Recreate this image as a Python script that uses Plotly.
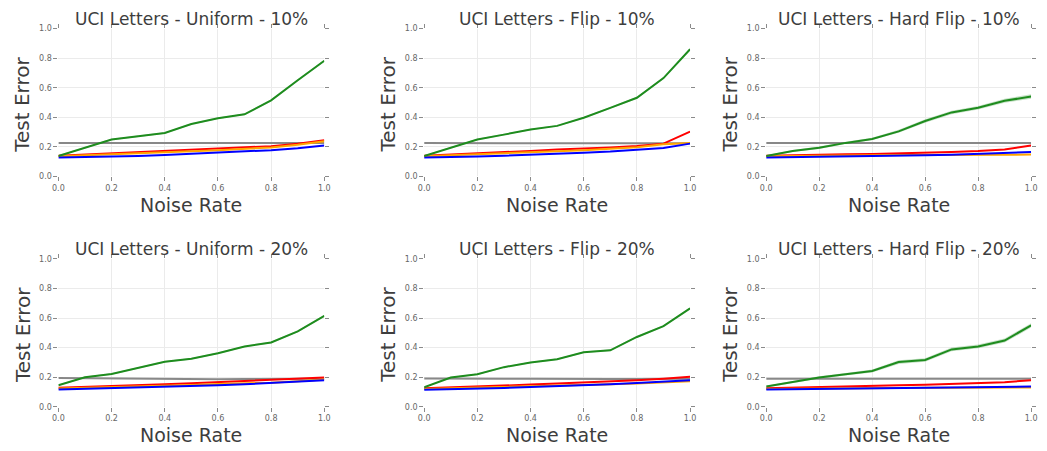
import plotly.graph_objects as go

noise_rate = [0.0, 0.1, 0.2, 0.3, 0.4, 0.5, 0.6, 0.7, 0.8, 0.9, 1.0]
titles = ["UCI Letters - Uniform - 10%", "UCI Letters - Flip - 10%", "UCI Letters - Hard Flip - 10%",
          "UCI Letters - Uniform - 20%", "UCI Letters - Flip - 20%", "UCI Letters - Hard Flip - 20%"]
tick_vals = [0.0, 0.2, 0.4, 0.6, 0.8, 1.0]
tick_text = ["0.0", "0.2", "0.4", "0.6", "0.8", "1.0"]

# Uniform 10%
u10_green = [0.139, 0.195, 0.250, 0.272, 0.294, 0.355, 0.393, 0.420, 0.514, 0.650, 0.782]
u10_green_std = [0.004, 0.004, 0.005, 0.005, 0.005, 0.005, 0.005, 0.005, 0.006, 0.006, 0.006]
u10_gray = [0.226, 0.226, 0.225, 0.225, 0.225, 0.225, 0.224, 0.224, 0.225, 0.225, 0.226]
u10_red = [0.140, 0.148, 0.157, 0.165, 0.172, 0.179, 0.186, 0.195, 0.205, 0.222, 0.245]
u10_orange = [0.136, 0.142, 0.150, 0.157, 0.164, 0.171, 0.178, 0.186, 0.196, 0.214, 0.238]
u10_blue = [0.128, 0.130, 0.134, 0.139, 0.146, 0.153, 0.160, 0.170, 0.178, 0.191, 0.210]

# Flip 10%
f10_green = [0.139, 0.196, 0.250, 0.283, 0.318, 0.342, 0.397, 0.464, 0.532, 0.665, 0.860]
f10_green_std = [0.004, 0.004, 0.005, 0.005, 0.005, 0.005, 0.005, 0.006, 0.006, 0.006, 0.006]
f10_gray = [0.226, 0.225, 0.224, 0.222, 0.224, 0.225, 0.225, 0.225, 0.225, 0.225, 0.225]
f10_red = [0.140, 0.147, 0.156, 0.165, 0.173, 0.182, 0.188, 0.196, 0.206, 0.222, 0.303]
f10_orange = [0.136, 0.142, 0.150, 0.157, 0.164, 0.171, 0.178, 0.186, 0.198, 0.218, 0.226]
f10_blue = [0.128, 0.129, 0.135, 0.140, 0.145, 0.152, 0.160, 0.168, 0.182, 0.193, 0.222]

# Hard Flip 10%
h10_green = [0.139, 0.172, 0.194, 0.227, 0.254, 0.305, 0.375, 0.433, 0.464, 0.512, 0.540]
h10_green_std = [0.005, 0.007, 0.008, 0.008, 0.008, 0.010, 0.012, 0.012, 0.012, 0.014, 0.015]
h10_gray = [0.226, 0.226, 0.226, 0.226, 0.226, 0.226, 0.226, 0.226, 0.226, 0.226, 0.226]
h10_red = [0.140, 0.145, 0.148, 0.150, 0.152, 0.155, 0.158, 0.166, 0.172, 0.182, 0.210]
h10_orange = [0.136, 0.139, 0.141, 0.143, 0.144, 0.145, 0.146, 0.147, 0.148, 0.148, 0.148]
h10_blue = [0.128, 0.130, 0.133, 0.136, 0.139, 0.141, 0.143, 0.147, 0.152, 0.158, 0.166]

# Uniform 20%
u20_green = [0.146, 0.200, 0.222, 0.262, 0.304, 0.325, 0.362, 0.408, 0.435, 0.510, 0.614]
u20_green_std = [0.004, 0.004, 0.005, 0.005, 0.005, 0.005, 0.005, 0.005, 0.006, 0.006, 0.006]
u20_gray = [0.194, 0.192, 0.190, 0.188, 0.187, 0.186, 0.186, 0.187, 0.188, 0.189, 0.190]
u20_red = [0.128, 0.133, 0.139, 0.146, 0.152, 0.159, 0.166, 0.172, 0.184, 0.190, 0.198]
u20_orange = [0.124, 0.128, 0.133, 0.138, 0.143, 0.148, 0.154, 0.158, 0.163, 0.173, 0.185]
u20_blue = [0.117, 0.121, 0.126, 0.130, 0.134, 0.140, 0.145, 0.152, 0.161, 0.170, 0.179]

# Flip 20%
f20_green = [0.132, 0.198, 0.220, 0.268, 0.300, 0.322, 0.368, 0.382, 0.472, 0.545, 0.665]
f20_green_std = [0.004, 0.004, 0.005, 0.005, 0.005, 0.005, 0.005, 0.005, 0.006, 0.006, 0.006]
f20_gray = [0.192, 0.190, 0.188, 0.189, 0.190, 0.188, 0.187, 0.187, 0.188, 0.189, 0.190]
f20_red = [0.125, 0.130, 0.136, 0.142, 0.150, 0.158, 0.164, 0.172, 0.180, 0.190, 0.203]
f20_orange = [0.121, 0.125, 0.129, 0.133, 0.138, 0.143, 0.148, 0.153, 0.158, 0.165, 0.172]
f20_blue = [0.115, 0.118, 0.122, 0.127, 0.133, 0.138, 0.144, 0.152, 0.160, 0.172, 0.180]

# Hard Flip 20%
h20_green = [0.137, 0.166, 0.198, 0.220, 0.242, 0.302, 0.316, 0.388, 0.408, 0.448, 0.550]
h20_green_std = [0.006, 0.007, 0.008, 0.009, 0.010, 0.012, 0.012, 0.013, 0.013, 0.014, 0.015]
h20_gray = [0.190, 0.190, 0.189, 0.188, 0.188, 0.187, 0.187, 0.188, 0.188, 0.188, 0.189]
h20_red = [0.125, 0.130, 0.134, 0.138, 0.142, 0.145, 0.149, 0.154, 0.160, 0.166, 0.180]
h20_orange = [0.120, 0.122, 0.124, 0.125, 0.126, 0.127, 0.128, 0.128, 0.129, 0.129, 0.130]
h20_blue = [0.117, 0.119, 0.121, 0.123, 0.125, 0.127, 0.129, 0.131, 0.133, 0.135, 0.137]

panels = [
    (u10_green, u10_green_std, u10_gray, u10_red, u10_orange, u10_blue),
    (f10_green, f10_green_std, f10_gray, f10_red, f10_orange, f10_blue),
    (h10_green, h10_green_std, h10_gray, h10_red, h10_orange, h10_blue),
    (u20_green, u20_green_std, u20_gray, u20_red, u20_orange, u20_blue),
    (f20_green, f20_green_std, f20_gray, f20_red, f20_orange, f20_blue),
    (h20_green, h20_green_std, h20_gray, h20_red, h20_orange, h20_blue),
]

W, H = 1047, 451
col_px = [(53, 322), (423, 692), (769, 1037)]
row_px = [(25, 176), (260, 411)]

GREEN = "#1e8c1e"
TEXT = "#3d3d3d"
fig = go.Figure()
layout = dict(width=W, height=H, margin=dict(l=0, r=0, t=0, b=0),
              paper_bgcolor="white", plot_bgcolor="white", showlegend=False,
              font=dict(family="DejaVu Sans", color=TEXT))
annotations = []

for i, (g, gs, gr, rd, og, bl) in enumerate(panels):
    r, c = divmod(i, 3)
    k = i + 1
    xa = "x" if k == 1 else f"x{k}"
    ya = "y" if k == 1 else f"y{k}"
    x0, x1 = col_px[c]
    y0, y1 = row_px[r]
    common = dict(range=[0, 1], tickvals=tick_vals, ticktext=tick_text,
                  showgrid=True, gridcolor="#ebebeb", gridwidth=1,
                  zeroline=False, showline=False, ticks="outside", ticklen=4,
                  tickcolor="#8a8a8a", tickwidth=1, mirror="ticks",
                  tickfont=dict(size=8, color="#666666", family="DejaVu Sans"),
                  fixedrange=True)
    layout[f"xaxis{k}"] = dict(common, domain=[x0 / W, x1 / W], anchor=ya)
    layout[f"yaxis{k}"] = dict(common, domain=[1 - y1 / H, 1 - y0 / H], anchor=xa)

    upper = [m + s for m, s in zip(g, gs)]
    lower = [m - s for m, s in zip(g, gs)]
    fig.add_trace(go.Scatter(x=noise_rate, y=upper, mode="lines", line=dict(width=0),
                             xaxis=xa, yaxis=ya, hoverinfo="skip"))
    fig.add_trace(go.Scatter(x=noise_rate, y=lower, mode="lines", line=dict(width=0),
                             fill="tonexty", fillcolor="rgba(30,140,30,0.25)",
                             xaxis=xa, yaxis=ya, hoverinfo="skip"))
    for ys, col in [(gr, "#888888"), (rd, "#ff0000"), (og, "#ffa500"), (bl, "#0000ff"), (g, GREEN)]:
        fig.add_trace(go.Scatter(x=noise_rate, y=ys, mode="lines",
                                 line=dict(color=col, width=2), xaxis=xa, yaxis=ya))

    cx = (x0 + x1) / 2
    annotations.append(dict(text=titles[i], x=cx / W, y=1 - (y0 - 10) / H, xref="paper", yref="paper",
                            xanchor="center", yanchor="middle", showarrow=False,
                            font=dict(size=17, color=TEXT, family="DejaVu Sans")))
    annotations.append(dict(text="Noise Rate", x=cx / W, y=1 - (y1 + 29) / H, xref="paper", yref="paper",
                            xanchor="center", yanchor="middle", showarrow=False,
                            font=dict(size=19, color=TEXT, family="DejaVu Sans")))
    annotations.append(dict(text="Test Error", x=(x0 - 36.5) / W, y=1 - ((y0 + y1) / 2 + 2) / H,
                            xref="paper", yref="paper", textangle=-90,
                            xanchor="center", yanchor="middle", showarrow=False,
                            font=dict(size=20, color=TEXT, family="DejaVu Sans")))

layout["annotations"] = annotations
fig.update_layout(**layout)
fig.write_html("out.html")
